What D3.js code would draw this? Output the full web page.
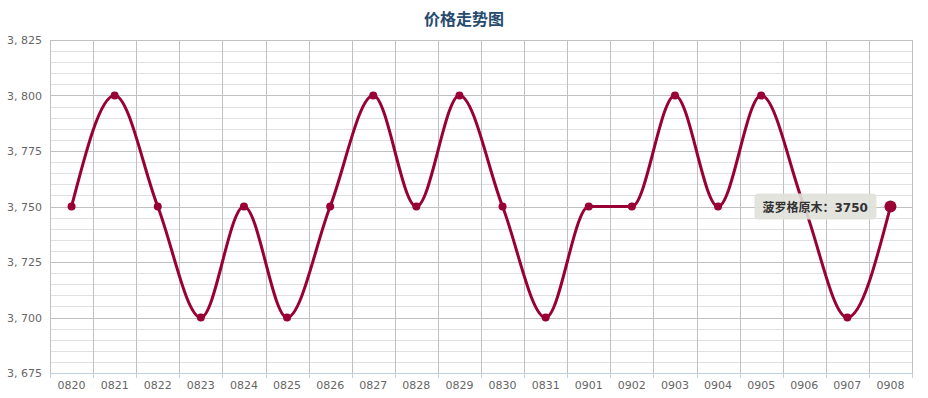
<!DOCTYPE html>
<html>
<head>
<meta charset="utf-8">
<title>价格走势图</title>
<script src="https://cdn.jsdelivr.net/npm/d3@7"></script>
<style>
  body { margin: 0; background: #fff; }
  text { font-family: "DejaVu Sans", "Noto Sans CJK SC", sans-serif; }
</style>
</head>
<body>
<div id="chart"></div>
<script>
// Données
const dates = ["0820","0821","0822","0823","0824","0825","0826","0827","0828","0829",
               "0830","0831","0901","0902","0903","0904","0905","0906","0907","0908"];
const prix = [3750,3800,3750,3700,3750,3700,3750,3800,3750,3800,
              3750,3700,3750,3750,3800,3750,3800,3750,3700,3750];
const yTicks = [3675,3700,3725,3750,3775,3800,3825];
const serieNom = "菠罗格原木";
const survol = 19; // point mis en évidence

const W = 928, H = 398;
const mLeft = 50, mRight = 16, mTop = 40, mBottom = 25;
const width = W - mLeft - mRight;
const height = H - mTop - mBottom;

const svg = d3.select("#chart").append("svg")
  .attr("width", W).attr("height", H);

// Titre
svg.append("text")
  .attr("x", W / 2).attr("y", 25)
  .attr("text-anchor", "middle")
  .style("font-size", "16px").style("font-weight", "bold")
  .style("fill", "#274b6d")
  .text("价格走势图");

const g = svg.append("g").attr("transform", `translate(${mLeft},${mTop})`);

// Échelles
const x = d3.scaleBand().domain(dates).range([0, width]).padding(0);
const y = d3.scaleLinear().domain([3675, 3825]).range([height, 0]);

// Grille mineure
g.append("g").selectAll("line")
  .data(d3.range(3675, 3826, 5))
  .join("line")
  .attr("x1", 0).attr("x2", width)
  .attr("y1", d => Math.round(y(d)) + 0.5).attr("y2", d => Math.round(y(d)) + 0.5)
  .attr("stroke", "#e0e0e0");

// Grille principale
g.append("g").selectAll("line")
  .data(yTicks)
  .join("line")
  .attr("x1", 0).attr("x2", width)
  .attr("y1", d => Math.round(y(d)) + 0.5).attr("y2", d => Math.round(y(d)) + 0.5)
  .attr("stroke", "#c0c0c0");

// Grille verticale (limites de catégories)
const bords = dates.map(d => x(d)).concat([width]);
g.append("g").selectAll("line")
  .data(bords)
  .join("line")
  .attr("x1", d => Math.round(d) + 0.5).attr("x2", d => Math.round(d) + 0.5)
  .attr("y1", 0).attr("y2", height)
  .attr("stroke", "#c0c0c0");

// Axe X
const axeX = g.append("g").attr("transform", `translate(0,${height})`);
axeX.append("line").attr("x1", 0).attr("x2", width)
  .attr("y1", 0.5).attr("y2", 0.5).attr("stroke", "#c0d0e0");
axeX.selectAll(".tick")
  .data(bords)
  .join("line")
  .attr("x1", d => Math.round(d) + 0.5).attr("x2", d => Math.round(d) + 0.5)
  .attr("y1", 0).attr("y2", 5)
  .attr("stroke", "#c0d0e0");
axeX.selectAll("text")
  .data(dates)
  .join("text")
  .attr("x", d => x(d) + x.bandwidth() / 2)
  .attr("y", 16)
  .attr("text-anchor", "middle")
  .style("font-size", "11px").style("fill", "#666")
  .text(d => d);

// Axe Y
const fmt = d3.format(",");
g.append("g").selectAll("text")
  .data(yTicks)
  .join("text")
  .attr("x", -8)
  .attr("y", d => y(d) + 4)
  .attr("text-anchor", "end")
  .style("font-size", "11px").style("fill", "#666")
  .text(d => fmt(d).replace(",", ", "));

// Ligne
const pts = dates.map((d, i) => ({ date: d, prix: prix[i] }));
const line = d3.line()
  .x(d => x(d.date) + x.bandwidth() / 2)
  .y(d => y(d.prix))
  .curve(d3.curveMonotoneX);

g.append("path")
  .datum(pts)
  .attr("d", line)
  .attr("fill", "none")
  .attr("stroke", "#990033")
  .attr("stroke-width", 3);

g.selectAll(".pt")
  .data(pts)
  .join("circle")
  .attr("cx", d => x(d.date) + x.bandwidth() / 2)
  .attr("cy", d => y(d.prix))
  .attr("r", (d, i) => i === survol ? 6 : 4)
  .attr("fill", "#990033");

// Infobulle
const p = pts[survol];
const tx = x(p.date) + x.bandwidth() / 2 - 136, ty = y(p.prix) - 13;
const tip = g.append("g").attr("transform", `translate(${tx},${ty})`);
tip.append("rect")
  .attr("width", 122).attr("height", 26).attr("rx", 4)
  .attr("fill", "rgba(225,225,220,0.9)");
tip.append("text")
  .attr("x", 8).attr("y", 18)
  .style("font-size", "12px").style("font-weight", "bold").style("fill", "#333")
  .text(`${serieNom}：${p.prix}`);
</script>
</body>
</html>
